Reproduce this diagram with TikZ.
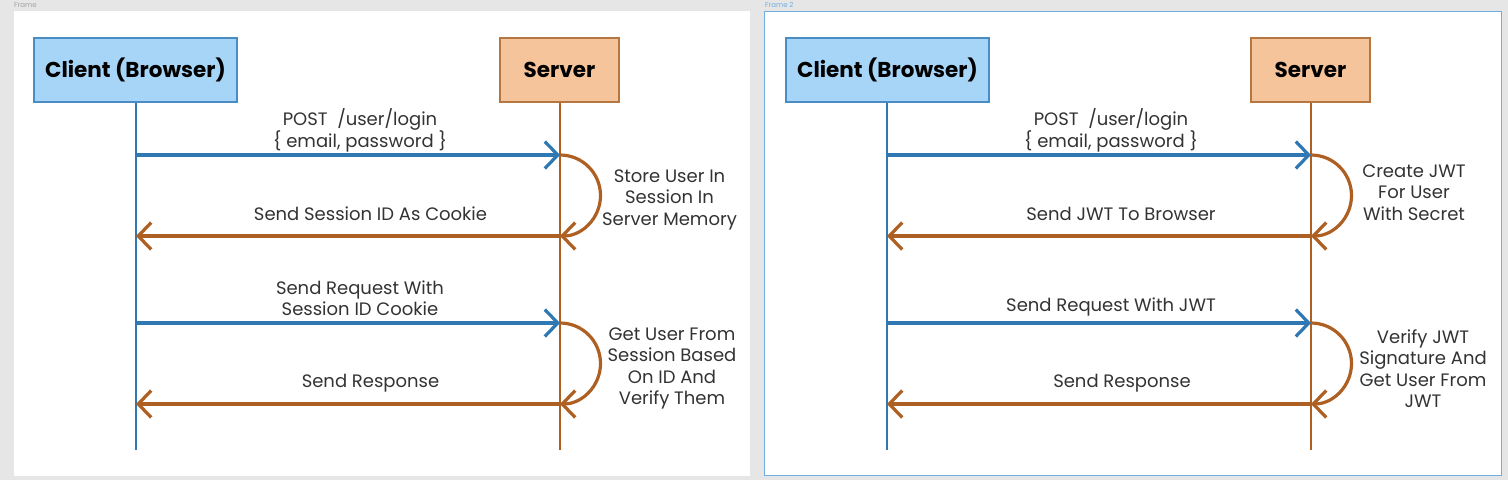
\documentclass[tikz,border=0pt]{standalone}
\usepackage{fontspec}
\setmainfont{Poppins}
\usetikzlibrary{arrows.meta}
\definecolor{bgc}{HTML}{E6E6E6}
\definecolor{clientfill}{HTML}{A6D5F7}
\definecolor{clientdraw}{HTML}{4A8CC4}
\definecolor{serverfill}{HTML}{F5C49A}
\definecolor{serverdraw}{HTML}{B5773F}
\definecolor{blueline}{HTML}{2F78B4}
\definecolor{brownline}{HTML}{AE5F22}
\definecolor{txt}{HTML}{333333}
\definecolor{framelbl}{HTML}{A0A0A0}
\definecolor{framesel}{HTML}{6FAEE3}
\begin{document}
\begin{tikzpicture}[x=1pt,y=-1pt,
  actorbox/.style={draw, line width=1.3pt, minimum height=64pt, inner sep=0pt,
    font=\fontsize{21.5}{24}\selectfont\bfseries, text=black},
  clientbox/.style={actorbox, fill=clientfill, draw=clientdraw, minimum width=203pt},
  serverbox/.style={actorbox, fill=serverfill, draw=serverdraw, minimum width=119pt},
  lbl/.style={font=\fontsize{18}{21.5}\selectfont, text=txt, align=center, inner sep=0pt},
  clife/.style={draw=blueline, line width=2pt},
  slife/.style={draw=brownline, line width=2pt},
  tip/.style={-{Straight Barb[length=13pt,width=27pt,line width=3.2pt]}},
  req/.style={tip, draw=blueline, line width=3.2pt},
  resp/.style={tip, draw=brownline, line width=3.2pt},
  loopa/.style={tip, draw=brownline, line width=3.2pt},
  framelabel/.style={font=\fontsize{7}{8}\selectfont, anchor=west, inner sep=0pt}
]
\useasboundingbox (0,0) rectangle (1508,480);
\fill[bgc] (0,0) rectangle (1508,480);
% frames
\fill[white] (14,11) rectangle (750,476);
\fill[white] (764,11) rectangle (1502,476);
\draw[framesel, line width=1.2pt] (764.5,11.5) rectangle (1501.5,475.5);
\node[framelabel, text=framelbl] (fl1) at (14,5) {Frame};
\node[framelabel, text=framesel] (fl2) at (765,5) {Frame 2};

% ===== left panel =====
\node[clientbox] (cl) at (135.5,70) {Client (Browser)};
\node[serverbox] (sv) at (559.5,70) {Server};
\coordinate (clend) at (136,450);
\coordinate (svend) at (560,450);
\draw[clife] (cl.south -| clend) -- (clend);
\draw[slife] (sv.south -| svend) -- (svend);
\coordinate (c1) at (136,155); \coordinate (s1) at (560,155);
\coordinate (c2) at (136,236); \coordinate (s2) at (560,236);
\coordinate (c3) at (136,323); \coordinate (s3) at (560,323);
\coordinate (c4) at (136,404); \coordinate (s4) at (560,404);
\draw[req] (c1) -- (s1);
\draw[loopa] (s1) arc[start angle=-90, end angle=90, radius=40.5];
\draw[resp] (s2) -- (c2);
\draw[req] (c3) -- (s3);
\draw[loopa] (s3) arc[start angle=-90, end angle=90, radius=40.5];
\draw[resp] (s4) -- (c4);
\node[lbl] (l1) at (360,130.5) {POST\ \ /user/login\\\{ email, password \}};
\node[lbl] (l2) at (370.5,214) {Send Session ID As Cookie};
\node[lbl] (l3) at (360,298) {Send Request With\\Session ID Cookie};
\node[lbl] (l4) at (370.5,383) {Send Response};
\node[lbl] (l5) at (669.5,199.5) {Store User In\\Session In\\Server Memory};
\node[lbl] (l6) at (672,368.5) {Get User From\\Session Based\\On ID And\\Verify Them};

% ===== right panel =====
\node[clientbox] (cr) at (887.5,70) {Client (Browser)};
\node[serverbox] (sr) at (1310.5,70) {Server};
\coordinate (crend) at (887,450);
\coordinate (srend) at (1311,450);
\draw[clife] (cr.south -| crend) -- (crend);
\draw[slife] (sr.south -| srend) -- (srend);
\coordinate (rc1) at (887,155); \coordinate (rs1) at (1311,155);
\coordinate (rc2) at (887,236); \coordinate (rs2) at (1311,236);
\coordinate (rc3) at (887,323); \coordinate (rs3) at (1311,323);
\coordinate (rc4) at (887,404); \coordinate (rs4) at (1311,404);
\draw[req] (rc1) -- (rs1);
\draw[loopa] (rs1) arc[start angle=-90, end angle=90, radius=40.5];
\draw[resp] (rs2) -- (rc2);
\draw[req] (rc3) -- (rs3);
\draw[loopa] (rs3) arc[start angle=-90, end angle=90, radius=40.5];
\draw[resp] (rs4) -- (rc4);
\node[lbl] (r1) at (1111,130.5) {POST\ \ /user/login\\\{ email, password \}};
\node[lbl] (r2) at (1121,214) {Send JWT To Browser};
\node[lbl] (r3) at (1111,307) {Send Request With JWT};
\node[lbl] (r4) at (1122,383) {Send Response};
\node[lbl] (r5) at (1414,192.5) {Create JWT\\For User\\With Secret};
\node[lbl] (r6) at (1423,368.5) {Verify JWT\\Signature And\\Get User From\\JWT};
\end{tikzpicture}
\end{document}
